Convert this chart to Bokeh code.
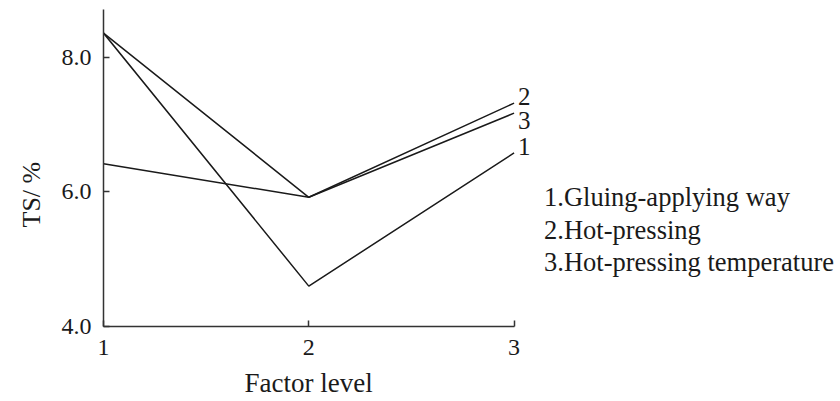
from bokeh.plotting import figure
from bokeh.models import Range1d, FixedTicker, Title, CustomJSTickFormatter
from bokeh.core.properties import value
from bokeh.embed import file_html
from bokeh.resources import INLINE

# ---- data ----
levels = [1, 2, 3]
s1_gluing = [8.36, 4.60, 6.58]
s2_hotpress = [6.42, 5.92, 7.32]
s3_temp = [8.36, 5.92, 7.17]
end_labels = ["2", "3", "1"]
end_values = [s2_hotpress[-1], s3_temp[-1], s1_gluing[-1]]
legend_items = ["1.Gluing-applying way", "2.Hot-pressing", "3.Hot-pressing temperature"]
y_ticks = [4.0, 6.0, 8.0]
x_ticks = [1, 2, 3]
x_title = "Factor level"
y_title = "TS/ %"

FONT = "Liberation Serif"
INK = "#1a1a1a"

p = figure(width=840, height=401, output_backend="svg", toolbar_location=None,
           x_range=Range1d(1, 4.59), y_range=Range1d(4.0, 8.77),
           min_border_left=103, min_border_right=0, min_border_top=5, min_border_bottom=75)
p.frame_width = 737
p.frame_height = 321
p.outline_line_color = None
p.xgrid.visible = False
p.ygrid.visible = False
p.background_fill_color = "white"
p.border_fill_color = "white"

for data in (s1_gluing, s2_hotpress, s3_temp):
    p.line(levels, data, line_color=INK, line_width=1.5)

# end labels
offs = [-7, 7, -6]
p.text(x=[3] * 3, y=end_values, text=end_labels, x_offset=4, y_offset=offs,
       text_font=value(FONT), text_font_size="25px", text_color=INK,
       text_baseline="middle", text_align="left")

# legend text block
p.text(x=[3.146] * 3, y=[5.92] * 3, text=legend_items, x_offset=0, y_offset=[0, 33, 65],
       text_font=value(FONT), text_font_size="26.5px", text_color=INK,
       text_baseline="middle", text_align="left")

for ax in (p.xaxis[0], p.yaxis[0]):
    ax.axis_line_color = "#333333"
    ax.axis_line_width = 1.5
    ax.major_tick_line_color = "#333333"
    ax.major_tick_line_width = 1.5
    ax.major_tick_in = 6
    ax.major_tick_out = 0
    ax.minor_tick_line_color = None
    ax.major_label_text_font = FONT
    ax.major_label_text_font_size = "24px"
    ax.major_label_text_color = INK

p.xaxis.ticker = FixedTicker(ticks=x_ticks)
p.xaxis.bounds = (1, 3)
p.xaxis.major_label_standoff = 13

p.yaxis.ticker = FixedTicker(ticks=y_ticks)
p.yaxis.bounds = (4.0, 8.71)
p.yaxis.major_label_standoff = 12
p.yaxis.formatter = CustomJSTickFormatter(code="return tick.toFixed(1);")

# axis titles placed as in the reference (x title centred under level 2)
p.add_layout(Title(text=x_title, align="left", offset=141, text_font=FONT,
                   text_font_size="27px", text_font_style="normal", text_color=INK,
                   standoff=17), "below")
p.add_layout(Title(text=y_title, align="left", offset=99, text_font=FONT,
                   text_font_size="26px", text_font_style="normal", text_color=INK,
                   standoff=26), "left")

open("out.html", "w").write(file_html(p, INLINE))
